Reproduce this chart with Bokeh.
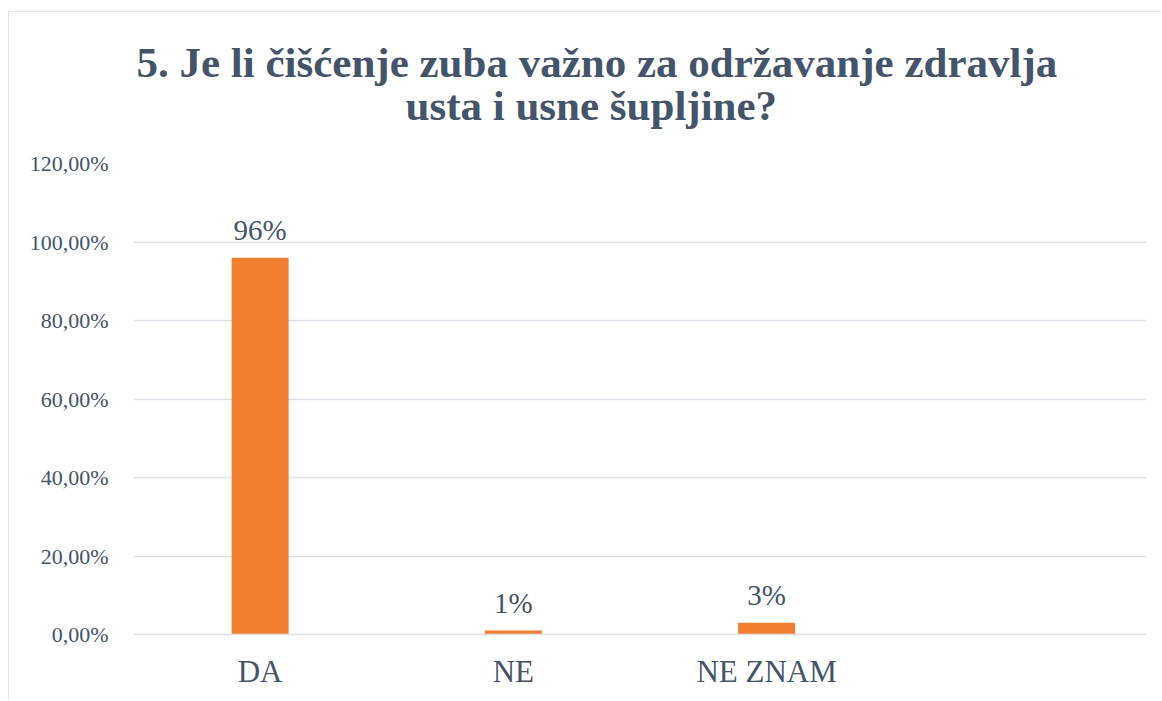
from bokeh.plotting import figure
from bokeh.models import ColumnDataSource, FactorRange, LabelSet, FixedTicker, Title, Range1d
from bokeh.embed import file_html
from bokeh.resources import INLINE

# ---- data ----
title_line1 = "5. Je li čišćenje zuba važno za održavanje zdravlja"
title_line2 = "usta i usne šupljine?"
categories = ["DA", "NE", "NE ZNAM", " "]
bar_categories = ["DA", "NE", "NE ZNAM"]
values = [96, 1, 3]
value_labels = ["96%", "1%", "3%"]
y_ticks = [0, 20, 40, 60, 80, 100, 120]

TEXT = "#44546A"
GRID = "#dde1e7"
FONT = "'Liberation Serif', 'Times New Roman', serif"

src = ColumnDataSource(dict(cat=bar_categories, val=values, lab=value_labels))

p = figure(
    width=1153, height=689,
    x_range=FactorRange(factors=categories, range_padding=0),
    y_range=Range1d(0, 120),
    output_backend="svg", toolbar_location=None, tools="",
    title=None,
    min_border_left=124, min_border_right=16, min_border_bottom=67, min_border_top=151,
    styles={"margin-left": "8px", "margin-top": "11px",
            "border-left": "1px solid #dfe2e7", "border-top": "1px solid #dfe2e7"},
)

# spacer between the frame and the title lines
p.add_layout(Title(text=" ", text_font_size="1px", standoff=32), "above")
p.add_layout(Title(text=title_line2, align="left", offset=272, text_font=FONT,
                   text_font_size="43px", text_font_style="bold", text_color=TEXT,
                   standoff=0), "above")
p.add_layout(Title(text=title_line1, align="left", offset=3, text_font=FONT,
                   text_font_size="43px", text_font_style="bold", text_color=TEXT,
                   standoff=-12), "above")

p.vbar(x="cat", top="val", width=0.225, source=src, fill_color="#F17F30", line_color=None)

labels = LabelSet(x="cat", y="val", text="lab", source=src, y_offset=18,
                  text_align="center", text_baseline="alphabetic",
                  text_font=FONT, text_font_size="29px", text_color=TEXT)
p.add_layout(labels)

# axes
p.yaxis.ticker = FixedTicker(ticks=y_ticks)
p.yaxis.major_label_overrides = {t: f"{t:.2f}".replace(".", ",") + "%" for t in y_ticks}
p.yaxis.axis_line_color = None
p.yaxis.major_tick_line_color = None
p.yaxis.minor_tick_line_color = None
p.yaxis.major_label_text_font = FONT
p.yaxis.major_label_text_font_size = "22px"
p.yaxis.major_label_text_color = TEXT
p.yaxis.major_label_standoff = 19

p.xaxis.axis_line_color = GRID
p.xaxis.axis_line_width = 1.5
p.xaxis.major_tick_line_color = None
p.xaxis.minor_tick_line_color = None
p.xaxis.major_label_text_font = FONT
p.xaxis.major_label_text_font_size = "31px"
p.xaxis.major_label_text_color = TEXT
p.xaxis.major_label_standoff = 13

p.xgrid.grid_line_color = None
p.ygrid.grid_line_color = GRID
p.ygrid.grid_line_width = 1.5
p.outline_line_color = None
p.background_fill_color = "white"
p.border_fill_color = "white"

open("out.html", "w").write(file_html(p, INLINE))
